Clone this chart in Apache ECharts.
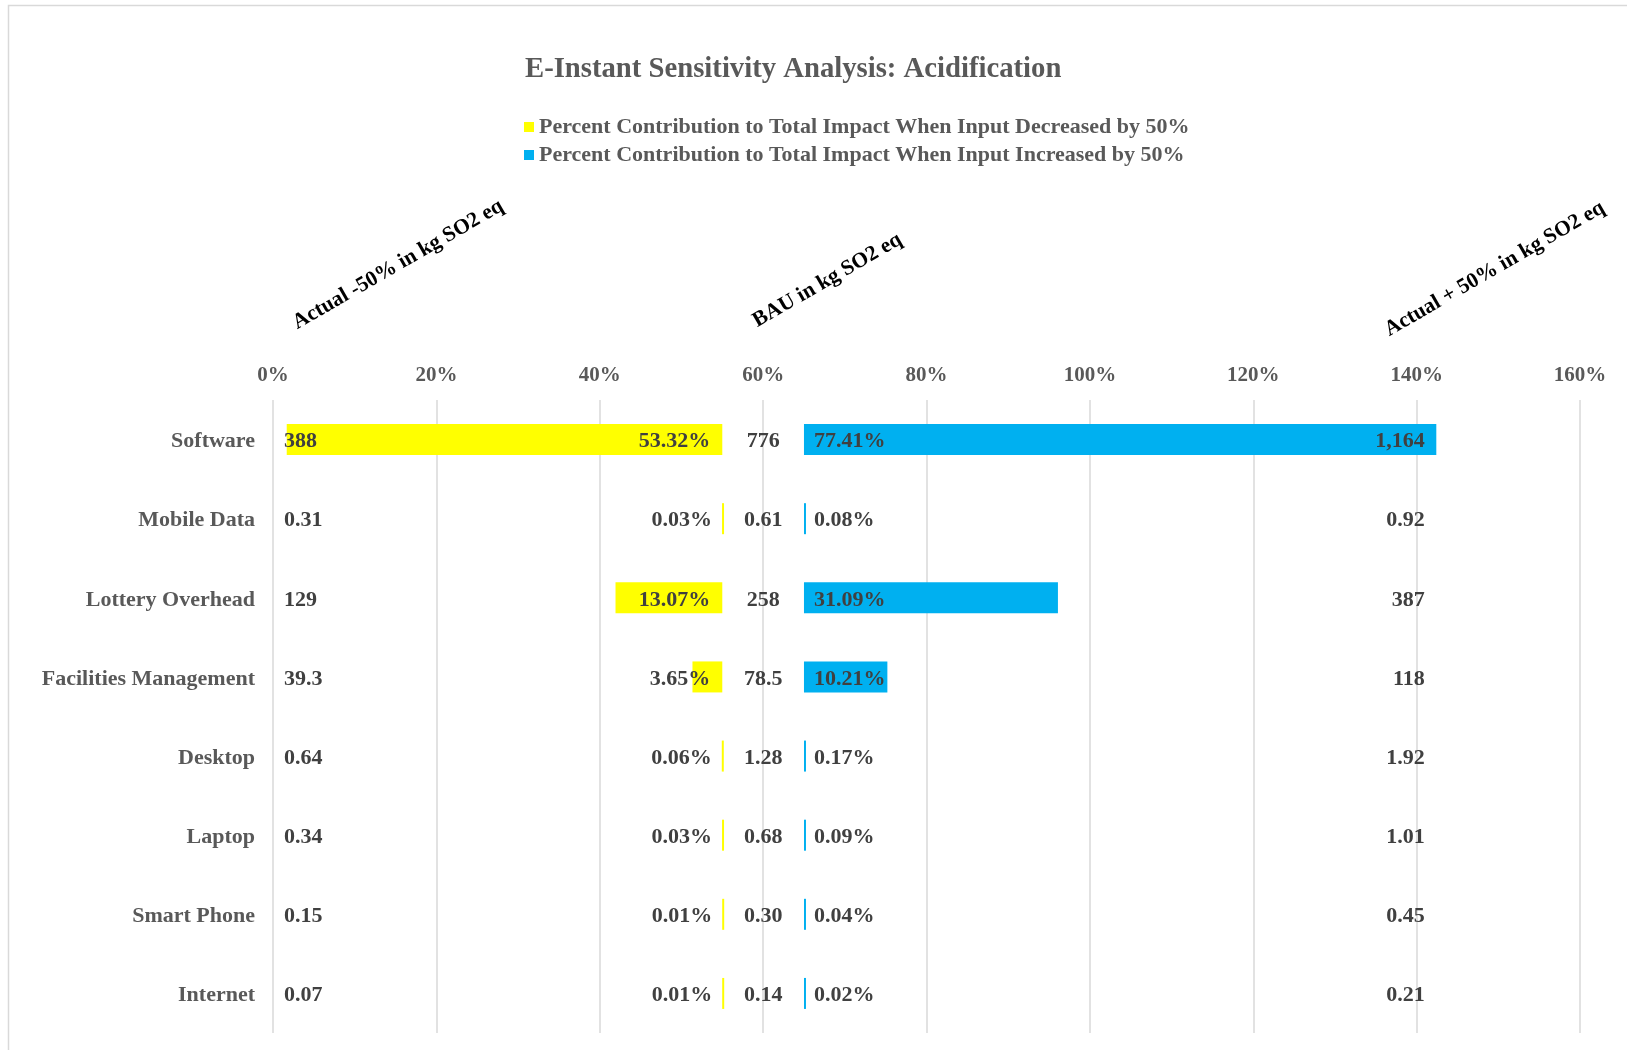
<!DOCTYPE html>
<html>
<head>
<meta charset="utf-8">
<title>E-Instant Sensitivity Analysis: Acidification</title>
<script src="https://cdn.jsdelivr.net/npm/echarts@6/dist/echarts.min.js"></script>
<style>
    html, body { margin: 0; padding: 0; background: #fff; }
    #main { width: 1627px; height: 1050px; }
</style>
</head>
<body>
<div id="main"></div>
<script>
    // 数据
    var categories = ['Software', 'Mobile Data', 'Lottery Overhead', 'Facilities Management',
        'Desktop', 'Laptop', 'Smart Phone', 'Internet'];
    var actualDecrease = [388, 0.31, 129, 39.3, 0.64, 0.34, 0.15, 0.07];
    var bauValues = [776, 0.61, 258, 78.5, 1.28, 0.68, 0.30, 0.14];
    var actualIncrease = [1164, 0.92, 387, 118, 1.92, 1.01, 0.45, 0.21];
    var pctDecrease = [53.32, 0.03, 13.07, 3.65, 0.06, 0.03, 0.01, 0.01];
    var pctIncrease = [77.41, 0.08, 31.09, 10.21, 0.17, 0.09, 0.04, 0.02];

    var LEG_DEC = 'Percent Contribution to Total Impact When Input Decreased by 50%';
    var LEG_INC = 'Percent Contribution to Total Impact When Input Increased by 50%';

    // 布局 (axis units, %)
    var DEC_END = 55;
    var INC_START = 65;
    var RIGHT_COL = 141;

    var FONT = '"Liberation Serif", "Times New Roman", serif';
    var TEXT = '#404040';

    function fmt(v) {
        if (v >= 100) return Math.round(v).toLocaleString('en-US');
        if (v >= 10) return v.toFixed(1);
        return v.toFixed(2);
    }

    function labelStyle(extra) {
        var s = {
            show: true,
            color: TEXT,
            fontFamily: FONT,
            fontWeight: 'bold',
            fontSize: 22,
            offset: [0, 2],
            textBorderWidth: 0,
            textBorderColor: 'transparent'
        };
        for (var k in extra) s[k] = extra[k];
        return s;
    }

    function header(text, x, y) {
        return {
            type: 'text',
            x: x,
            y: y,
            rotation: 30 * Math.PI / 180,
            silent: true,
            style: {
                text: text,
                fill: '#000',
                font: 'bold 21.5px ' + FONT,
                align: 'left',
                verticalAlign: 'bottom',
                textAlign: 'left',
                textVerticalAlign: 'bottom'
            }
        };
    }

    var chart = echarts.init(document.getElementById('main'));

    var option = {
        animation: false,
        title: {
            text: 'E-Instant Sensitivity Analysis: Acidification',
            left: 520,
            top: 50,
            textStyle: { fontFamily: FONT, fontWeight: 'bold', fontSize: 28.7, color: '#595959' }
        },
        legend: {
            data: [LEG_DEC, LEG_INC],
            orient: 'vertical',
            left: 519,
            top: 111,
            icon: 'rect',
            itemWidth: 10,
            itemHeight: 10,
            itemGap: 6,
            textStyle: { fontFamily: FONT, fontWeight: 'bold', fontSize: 22, lineHeight: 22, color: '#595959' }
        },
        grid: { left: 273, right: 47, top: 400, bottom: 17 },
        xAxis: {
            type: 'value',
            position: 'top',
            min: 0,
            max: 160,
            interval: 20,
            axisLine: { show: false },
            axisTick: { show: false },
            axisLabel: {
                formatter: '{value}%',
                margin: 14,
                color: '#595959',
                fontFamily: FONT,
                fontWeight: 'bold',
                fontSize: 21
            },
            splitLine: { show: true, lineStyle: { color: '#d9d9d9', width: 1.5 } }
        },
        yAxis: {
            type: 'category',
            data: categories,
            inverse: true,
            axisLine: { show: false },
            axisTick: { show: false },
            axisLabel: {
                margin: 18,
                formatter: '{c|{value}}',
                rich: {
                    c: {
                        padding: [4, 0, 0, 0],
                        color: '#595959',
                        fontFamily: FONT,
                        fontWeight: 'bold',
                        fontSize: 22
                    }
                }
            }
        },
        graphic: [
            {
                type: 'rect', x: 8.5, y: 5.5, silent: true, z: -10,
                shape: { x: 0, y: 0, width: 1700, height: 1100 },
                style: { fill: 'none', stroke: '#d9d9d9', lineWidth: 1.5 }
            },
            header('Actual -50% in kg SO2 eq', 300, 334),
            header('BAU in kg SO2 eq', 760, 332),
            header('Actual + 50% in kg SO2 eq', 1392, 341)
        ],
        series: [
            {
                name: 'decBase',
                type: 'bar',
                stack: 'row',
                barWidth: 31,
                silent: true,
                itemStyle: { color: 'rgba(0,0,0,0)' },
                data: pctDecrease.map(function (v) { return +(DEC_END - v).toFixed(2); }),
                label: labelStyle({
                    position: 'insideLeft', distance: 11,
                    formatter: function (p) { return fmt(actualDecrease[p.dataIndex]); }
                })
            },
            {
                name: LEG_DEC,
                type: 'bar',
                stack: 'row',
                barWidth: 31,
                barMinHeight: 2,
                itemStyle: { color: '#FFFF00' },
                data: pctDecrease,
                label: labelStyle({
                    position: 'insideRight', distance: 12,
                    formatter: function (p) { return p.value.toFixed(2) + '%'; }
                })
            },
            {
                name: 'bauGap',
                type: 'bar',
                stack: 'row',
                barWidth: 31,
                silent: true,
                itemStyle: { color: 'rgba(0,0,0,0)' },
                data: categories.map(function () { return INC_START - DEC_END; }),
                label: labelStyle({
                    position: 'inside',
                    formatter: function (p) { return fmt(bauValues[p.dataIndex]); }
                })
            },
            {
                name: LEG_INC,
                type: 'bar',
                stack: 'row',
                barWidth: 31,
                barMinHeight: 2,
                itemStyle: { color: '#00B0F0' },
                data: pctIncrease,
                label: labelStyle({
                    position: 'insideLeft', distance: 10,
                    formatter: function (p) { return p.value.toFixed(2) + '%'; }
                })
            },
            {
                name: 'incValues',
                type: 'scatter',
                symbolSize: 0,
                silent: true,
                itemStyle: { opacity: 1 },
                data: categories.map(function (c) { return [RIGHT_COL, c]; }),
                label: labelStyle({
                    position: 'left', distance: 0,
                    formatter: function (p) { return fmt(actualIncrease[p.dataIndex]); }
                })
            }
        ]
    };

    chart.setOption(option);
</script>
</body>
</html>
